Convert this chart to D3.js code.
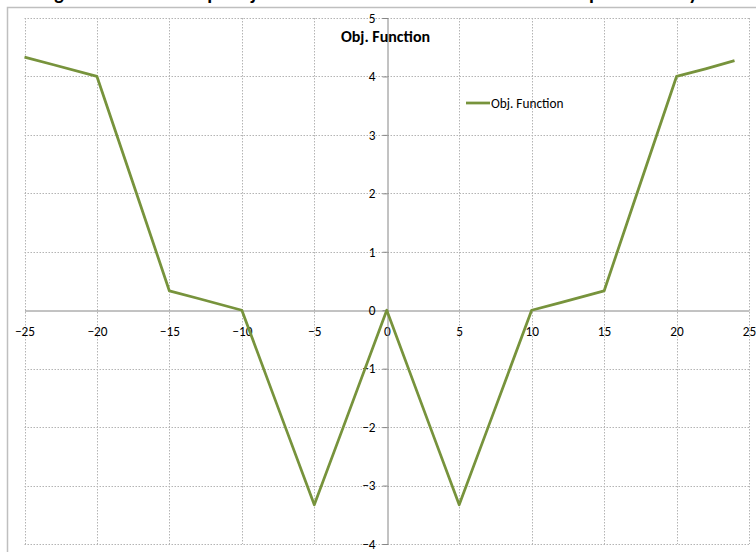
<!DOCTYPE html>
<html>
<head>
<meta charset="utf-8">
<script src="https://cdn.jsdelivr.net/npm/d3@7"></script>
<style>
  html, body { margin: 0; padding: 0; background: #fff; }
  svg { display: block; }
  text { font-family: Carlito, Calibri, "Open Sans", sans-serif; }
</style>
</head>
<body>
<svg id="chart" width="756" height="552"></svg>
<script>
// Objective function sampled along x
const xValues = [-25, -23, -20, -17, -15, -13, -10, -7, -5, -3, 0, 3, 5, 7, 10, 12, 15, 17, 20, 22, 24];
const objValues = [4.33, 4.2, 4.0, 1.8, 0.33, 0.2, 0, -2, -3.33, -2, 0, -2, -3.33, -2, 0, 0.13, 0.33, 1.8, 4.0, 4.13, 4.27];
const xTicks = [-25, -20, -15, -10, -5, 0, 5, 10, 15, 20, 25];
const yTicks = [-4, -3, -2, -1, 0, 1, 2, 3, 4, 5];
const seriesName = "Obj. Function";
const chartTitle = "Obj. Function";
const captionText = "Fig. 3  The Unit Step Obj. Function Of The Modelled Unit Step Test Array";

const svg = d3.select("#chart");
const lineColor = "#77933C";
const gridColor = "#b4b4b4";
const axisColor = "#868686";

// plot area
const plotLeft = 24.5, plotRight = 749, plotTop = 18, plotBottom = 544;
const x = d3.scaleLinear().domain([-25, 25]).range([plotLeft, plotRight]);
const y = d3.scaleLinear().domain([-4, 5]).range([plotBottom, plotTop]);

// figure caption, running off the top edge of the page
svg.append("text")
  .attr("x", 38).attr("y", -0.5)
  .attr("font-size", 20).attr("font-weight", "bold")
  .attr("fill", "#000")
  .attr("textLength", 660).attr("lengthAdjust", "spacing")
  .text(captionText);

// chart area border
svg.append("rect")
  .attr("x", 7.5).attr("y", 7.5)
  .attr("width", 760).attr("height", 560)
  .attr("fill", "#fff")
  .attr("stroke", "#bfbfbf").attr("stroke-width", 1.5);

// dotted gridlines
const grid = svg.append("g")
  .attr("stroke", gridColor).attr("stroke-width", 1)
  .attr("stroke-dasharray", "1.5,1.5").attr("fill", "none");
xTicks.forEach(t => {
  if (t === 0) return;
  grid.append("line")
    .attr("x1", Math.round(x(t)) + 0.5).attr("x2", Math.round(x(t)) + 0.5)
    .attr("y1", plotTop).attr("y2", plotBottom);
});
yTicks.forEach(t => {
  if (t === 0) return;
  grid.append("line")
    .attr("x1", plotLeft).attr("x2", plotRight)
    .attr("y1", Math.round(y(t)) + 0.5).attr("y2", Math.round(y(t)) + 0.5);
});

// axes through the origin
const xAxis = d3.axisBottom(x).tickValues(xTicks).tickSize(0).tickPadding(16)
  .tickFormat(d3.format("d"));
const gx = svg.append("g")
  .attr("transform", `translate(0,${Math.round(y(0)) + 0.5})`)
  .call(xAxis);
gx.select(".domain").attr("stroke", axisColor);
gx.selectAll("text").attr("font-size", 13.3).attr("fill", "#000");

const yAxis = d3.axisLeft(y).tickValues(yTicks).tickSize(5).tickPadding(7)
  .tickFormat(d3.format("d"));
const gy = svg.append("g")
  .attr("transform", `translate(${Math.round(x(0)) + 0.5},0)`)
  .call(yAxis);
gy.select(".domain").attr("stroke", axisColor);
gy.selectAll(".tick line").attr("stroke", axisColor);
gy.selectAll("text").attr("font-size", 13.3).attr("fill", "#000");

// series line
const line = d3.line()
  .x((d, i) => x(xValues[i]))
  .y(d => y(d));
svg.append("path")
  .datum(objValues)
  .attr("d", line)
  .attr("fill", "none")
  .attr("stroke", lineColor)
  .attr("stroke-width", 2.75)
  .attr("stroke-linejoin", "round");

// title
svg.append("text")
  .attr("x", 385.5).attr("y", 42)
  .attr("text-anchor", "middle")
  .attr("font-size", 16).attr("font-weight", "bold")
  .attr("fill", "#000")
  .text(chartTitle);

// legend
const lg = svg.append("g").attr("transform", "translate(466,103)");
lg.append("line")
  .attr("x1", 0).attr("x2", 24).attr("y1", 0).attr("y2", 0)
  .attr("stroke", lineColor).attr("stroke-width", 2.75);
lg.append("text")
  .attr("x", 25).attr("y", 4.5)
  .attr("font-size", 13.3).attr("fill", "#000")
  .text(seriesName);
</script>
</body>
</html>
